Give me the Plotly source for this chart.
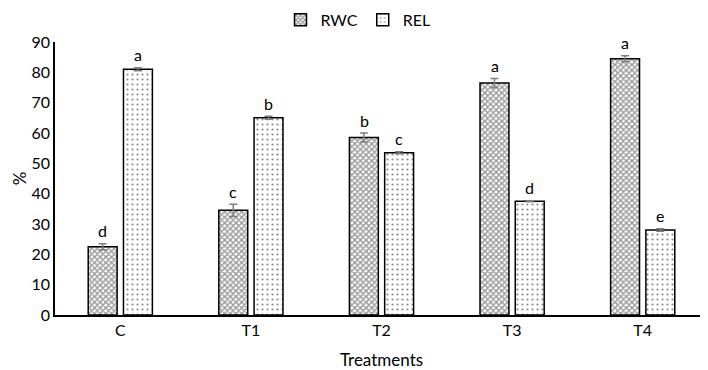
import plotly.graph_objects as go

categories = ["C", "T1", "T2", "T3", "T4"]
rwc = [22.5, 34.5, 58.5, 76.5, 84.5]
rwc_err = [1.0, 2.0, 1.5, 1.5, 1.0]
rwc_letters = ["d", "c", "b", "a", "a"]
rel = [81.0, 65.0, 53.5, 37.5, 28.0]
rel_err = [0.5, 0.5, 0.3, 0.2, 0.4]
rel_letters = ["a", "b", "c", "d", "e"]

FONT = "Lato"

fig = go.Figure()
fig.add_trace(go.Bar(
    name="RWC", x=categories, y=rwc,
    error_y=dict(type="data", array=rwc_err, color="#7f7f7f", thickness=1.5, width=4),
    marker=dict(color="white", line=dict(color="black", width=1.5),
                pattern=dict(shape="x", size=4, solidity=0.6, fgcolor="#333333", bgcolor="white")),
))
fig.add_trace(go.Bar(
    name="REL", x=categories, y=rel,
    error_y=dict(type="data", array=rel_err, color="#7f7f7f", thickness=1.5, width=4),
    marker=dict(color="white", line=dict(color="black", width=1.5),
                pattern=dict(shape=".", size=5, solidity=0.15, fgcolor="#111111", bgcolor="white")),
))

for i, c in enumerate(categories):
    fig.add_annotation(x=c, y=rwc[i] + rwc_err[i], text=rwc_letters[i], showarrow=False,
                       xshift=-17.5, yshift=13, font=dict(size=16, color="black", family=FONT))
    fig.add_annotation(x=c, y=rel[i] + rel_err[i], text=rel_letters[i], showarrow=False,
                       xshift=17.5, yshift=13, font=dict(size=16, color="black", family=FONT))

# y-axis title as a rotated annotation, placed close to the left edge
fig.add_annotation(text="%", xref="paper", yref="paper", x=-0.054, y=0.5,
                   xanchor="center", yanchor="middle", textangle=-90, showarrow=False,
                   font=dict(size=17, family=FONT, color="black"))

# page body has an 8px margin, so the figure is sized to fit the remaining window
fig.update_layout(
    width=700, height=362,
    margin=dict(l=47, r=0, t=34, b=55),
    paper_bgcolor="white", plot_bgcolor="white",
    barmode="group", bargap=0.46, bargroupgap=0.18,
    font=dict(family=FONT, size=16, color="black"),
    legend=dict(orientation="h", x=0.5, xanchor="center", xref="container",
                y=0.967, yanchor="middle", yref="container",
                font=dict(size=16, family=FONT), itemwidth=30),
    showlegend=True,
)
fig.update_xaxes(showline=True, linecolor="black", linewidth=1.5, ticks="", automargin=False,
                 title=dict(text="Treatments", font=dict(size=17, family=FONT), standoff=20),
                 tickfont=dict(size=16, family=FONT))
fig.update_yaxes(range=[0, 90], dtick=10, showline=True, linecolor="black", linewidth=1.5,
                 showgrid=False, zeroline=False, ticks="", automargin=False,
                 tickfont=dict(size=16, family=FONT))

fig.write_html("out.html")
